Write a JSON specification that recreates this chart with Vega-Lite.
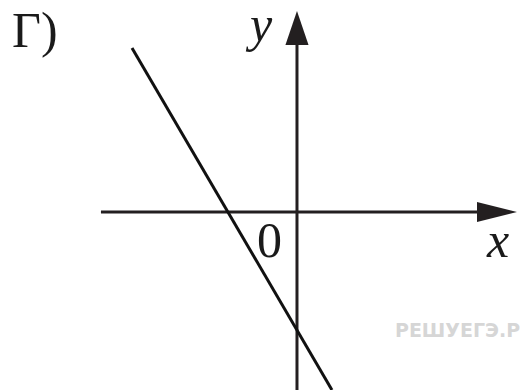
{
  "$schema": "https://vega.github.io/schema/vega-lite/v6.json",
  "width": 520,
  "height": 390,
  "padding": 0,
  "autosize": {"type": "none"},
  "background": "#ffffff",
  "config": {"view": {"stroke": null}},
  "datasets": {
    "axes": [
      {"name": "x-axis", "x": -2.841, "y": 0, "x2": 2.609, "y2": 0},
      {"name": "y-axis", "x": 0, "y": -2.58, "x2": 0, "y2": 2.42}
    ],
    "graph": [
      {"x": -2.391, "y": 2.377},
      {"x": 0.507, "y": -2.58}
    ],
    "xhead": [{"x": 2.899, "y": 0}],
    "yhead": [{"x": 0, "y": 2.667}],
    "serif": [
      {"label": "Г)", "x": -4.13, "y": 2.391},
      {"label": "0", "x": -0.58, "y": -0.652}
    ],
    "italic": [
      {"label": "y", "x": -0.681, "y": 2.478},
      {"label": "x", "x": 2.754, "y": -0.652}
    ],
    "mark": [{"label": "РЕШУЕГЭ.РФ", "x": 1.42, "y": -1.812}]
  },
  "encoding": {
    "x": {"field": "x", "type": "quantitative", "scale": {"domain": [-4.304, 3.232], "nice": false, "zero": false}, "axis": null},
    "y": {"field": "y", "type": "quantitative", "scale": {"domain": [-2.58, 3.072], "nice": false, "zero": false}, "axis": null}
  },
  "layer": [
    {
      "data": {"name": "axes"},
      "mark": {"type": "rule", "color": "#231f20", "strokeWidth": 3},
      "encoding": {
        "x2": {"field": "x2"},
        "y2": {"field": "y2"}
      }
    },
    {
      "data": {"name": "graph"},
      "mark": {"type": "line", "color": "#111111", "strokeWidth": 3}
    },
    {
      "data": {"name": "xhead"},
      "mark": {"type": "point", "shape": "M-1,-0.5L1,0L-1,0.5Z", "size": 1600, "filled": true, "color": "#231f20", "opacity": 1, "strokeWidth": 0}
    },
    {
      "data": {"name": "yhead"},
      "mark": {"type": "point", "shape": "M-0.68,1L0,-1L0.68,1Z", "size": 1156, "filled": true, "color": "#231f20", "opacity": 1, "strokeWidth": 0}
    },
    {
      "data": {"name": "serif"},
      "mark": {"type": "text", "font": "Liberation Serif", "fontSize": 50, "align": "left", "baseline": "alphabetic", "color": "#1a1a1a"},
      "encoding": {"text": {"field": "label"}}
    },
    {
      "data": {"name": "italic"},
      "mark": {"type": "text", "font": "Liberation Serif", "fontStyle": "italic", "fontSize": 50, "align": "left", "baseline": "alphabetic", "color": "#1a1a1a"},
      "encoding": {"text": {"field": "label"}}
    },
    {
      "data": {"name": "mark"},
      "mark": {"type": "text", "font": "DejaVu Sans", "fontWeight": "bold", "fontSize": 19, "align": "left", "baseline": "alphabetic", "color": "#d6d6d6"},
      "encoding": {"text": {"field": "label"}}
    }
  ]
}
